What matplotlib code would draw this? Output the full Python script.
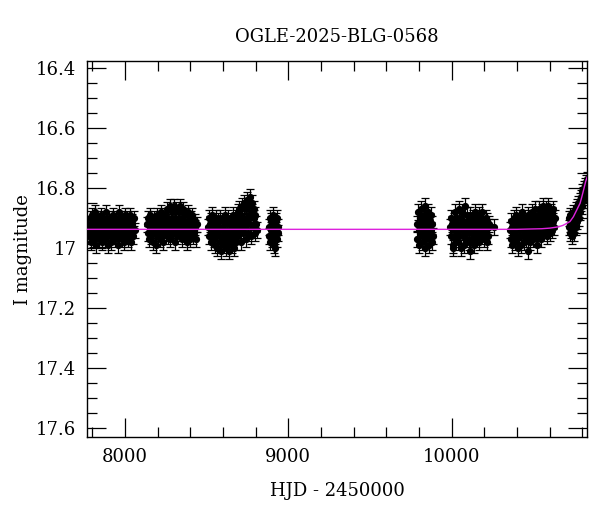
import matplotlib
matplotlib.use("Agg")
import matplotlib.pyplot as plt
from matplotlib.ticker import MultipleLocator, FuncFormatter

plt.rcParams['font.family'] = ['DejaVu Serif']

title = "OGLE-2025-BLG-0568"
xlabel = "HJD - 2450000"
ylabel = "I magnitude"

# Season 1
s1_t = [7776, 7780, 7783, 7787, 7790, 7794, 7797, 7801, 7804, 7808,
        7811, 7815, 7818, 7822, 7825, 7829, 7832, 7836, 7839, 7843,
        7847, 7850, 7854, 7857, 7861, 7864, 7868, 7871, 7875, 7878,
        7882, 7885, 7889, 7892, 7896, 7899, 7903, 7906, 7910, 7913,
        7917, 7921, 7924, 7928, 7931, 7935, 7938, 7942, 7945, 7949,
        7952, 7956, 7959, 7963, 7966, 7970, 7973, 7977, 7980, 7984,
        7988, 7991, 7995, 7998, 8002, 8005, 8009, 8012, 8016, 8019,
        8023, 8027, 8030, 8034, 8037, 8041, 8044, 8048, 8052, 8059]
s1_m = [16.93, 16.96, 16.90, 16.94, 16.98, 16.92, 16.89, 16.95, 16.97, 16.91,
        16.94, 16.88, 16.96, 16.93, 16.99, 16.90, 16.95, 16.92, 16.97, 16.94,
        16.91, 16.96, 16.89, 16.93, 16.98, 16.95, 16.90, 16.92, 16.97, 16.94,
        16.88, 16.96, 16.93, 16.91, 16.99, 16.94, 16.90, 16.96, 16.92, 16.95,
        16.98, 16.91, 16.94, 16.89, 16.96, 16.93, 16.97, 16.90, 16.95, 16.92,
        16.94, 16.99, 16.91, 16.96, 16.88, 16.93, 16.95, 16.90, 16.97, 16.93,
        16.91, 16.95, 16.98, 16.92, 16.89, 16.94, 16.96, 16.90, 16.93, 16.97,
        16.92, 16.95, 16.89, 16.94, 16.98, 16.91, 16.93, 16.96, 16.90, 16.94]
# Season 2
s2_t = [8135, 8139, 8143, 8147, 8150, 8154, 8158, 8162, 8166, 8170,
        8173, 8177, 8181, 8185, 8189, 8193, 8196, 8200, 8204, 8208,
        8212, 8216, 8219, 8223, 8227, 8231, 8235, 8239, 8242, 8246,
        8250, 8254, 8258, 8262, 8265, 8269, 8273, 8277, 8281, 8285,
        8288, 8292, 8296, 8300, 8304, 8308, 8311, 8315, 8319, 8323,
        8327, 8331, 8334, 8338, 8342, 8346, 8350, 8354, 8357, 8361,
        8365, 8369, 8373, 8377, 8380, 8384, 8388, 8392, 8396, 8400,
        8403, 8407, 8411, 8415, 8419, 8423, 8426, 8430, 8434, 8438]
s2_m = [16.92, 16.95, 16.90, 16.97, 16.93, 16.89, 16.96, 16.94, 16.91, 16.98,
        16.93, 16.90, 16.95, 16.92, 16.99, 16.94, 16.89, 16.96, 16.91, 16.93,
        16.97, 16.90, 16.94, 16.88, 16.96, 16.92, 16.98, 16.91, 16.94, 16.89,
        16.95, 16.92, 16.87, 16.96, 16.90, 16.93, 16.86, 16.97, 16.91, 16.94,
        16.88, 16.95, 16.92, 16.86, 16.98, 16.90, 16.93, 16.87, 16.96, 16.91,
        16.94, 16.88, 16.92, 16.86, 16.95, 16.90, 16.97, 16.87, 16.93, 16.91,
        16.96, 16.89, 16.94, 16.92, 16.98, 16.88, 16.95, 16.91, 16.93, 16.97,
        16.90, 16.94, 16.89, 16.96, 16.92, 16.95, 16.91, 16.93, 16.97, 16.92]
# Season 3
s3_t = [8509, 8513, 8517, 8520, 8524, 8528, 8532, 8535, 8539, 8543,
        8547, 8550, 8554, 8558, 8562, 8565, 8569, 8573, 8577, 8580,
        8584, 8588, 8592, 8595, 8599, 8603, 8607, 8610, 8614, 8618,
        8622, 8625, 8629, 8633, 8637, 8640, 8644, 8648, 8652, 8655,
        8659, 8663, 8667, 8670, 8674, 8678, 8682, 8685, 8689, 8693,
        8697, 8700, 8704, 8708, 8712, 8715, 8719, 8723, 8727, 8730,
        8734, 8738, 8742, 8745, 8749, 8753, 8757, 8760, 8764, 8768,
        8772, 8775, 8779, 8783, 8787, 8790, 8794, 8798, 8802, 8805]
s3_m = [16.93, 16.90, 16.96, 16.92, 16.98, 16.91, 16.95, 16.89, 16.94, 16.97,
        16.92, 16.99, 16.90, 16.95, 16.93, 17.00, 16.91, 16.96, 16.94, 16.98,
        16.90, 17.01, 16.93, 16.96, 16.91, 16.99, 16.94, 16.89, 16.97, 17.00,
        16.92, 16.95, 16.98, 16.90, 17.01, 16.94, 16.96, 16.91, 16.99, 16.93,
        16.89, 16.97, 16.92, 17.00, 16.95, 16.90, 16.98, 16.93, 16.88, 16.96,
        16.91, 16.87, 16.94, 16.98, 16.89, 16.92, 16.86, 16.95, 16.90, 16.85,
        16.93, 16.97, 16.87, 16.91, 16.84, 16.95, 16.89, 16.86, 16.92, 16.83,
        16.96, 16.88, 16.85, 16.93, 16.90, 16.87, 16.95, 16.89, 16.92, 16.94]
# Season 4
s4_t = [8880, 8883, 8886, 8889, 8892, 8895, 8898, 8901, 8904, 8907,
        8910, 8913, 8916, 8919, 8922, 8925, 8928, 8931, 8934, 8938]
s4_m = [16.93, 16.96, 16.90, 16.98, 16.94, 16.91, 16.97, 16.93, 16.89, 16.95,
        16.99, 16.92, 16.96, 17.00, 16.91, 16.94, 16.97, 16.90, 16.95, 16.93]
# Season 5
s5_t = [9787, 9790, 9794, 9797, 9801, 9804, 9807, 9811, 9814, 9818,
        9821, 9824, 9828, 9831, 9835, 9838, 9841, 9845, 9848, 9852,
        9855, 9858, 9862, 9865, 9869, 9872, 9875, 9879, 9882, 9886]
s5_m = [16.92, 16.97, 16.88, 16.94, 16.99, 16.90, 16.95, 16.87, 16.93, 16.98,
        16.91, 16.96, 16.89, 16.94, 17.00, 16.86, 16.92, 16.97, 16.90, 16.95,
        16.88, 16.93, 16.99, 16.91, 16.96, 16.89, 16.94, 16.98, 16.92, 16.96]
# Season 6
s6_t = [9991, 9995, 9998, 10002, 10005, 10009, 10012, 10016, 10019, 10023,
        10026, 10030, 10033, 10037, 10040, 10044, 10047, 10051, 10054, 10058,
        10061, 10065, 10068, 10072, 10075, 10079, 10082, 10086, 10089, 10093,
        10096, 10100, 10103, 10107, 10110, 10114, 10117, 10121, 10124, 10128,
        10131, 10135, 10138, 10142, 10145, 10149, 10152, 10156, 10159, 10163,
        10166, 10170, 10173, 10177, 10180, 10184, 10187, 10191, 10194, 10198,
        10201, 10205, 10208, 10212, 10215, 10219, 10222, 10226, 10230, 10256]
s6_m = [16.93, 16.90, 16.96, 16.92, 16.99, 17.00, 16.94, 16.91, 16.88, 16.97,
        16.93, 16.90, 16.95, 16.98, 16.92, 16.87, 16.96, 16.94, 16.90, 17.00,
        16.93, 16.88, 16.96, 16.91, 16.99, 16.94, 16.86, 16.92, 16.97, 16.89,
        16.95, 16.91, 16.98, 16.93, 17.01, 16.89, 16.95, 16.92, 16.97, 16.90,
        16.94, 16.99, 16.91, 16.96, 16.88, 16.93, 16.97, 16.90, 16.95, 16.92,
        16.98, 16.89, 16.94, 16.91, 16.96, 16.93, 16.88, 16.95, 16.91, 16.97,
        16.92, 16.95, 16.90, 16.94, 16.98, 16.91, 16.96, 16.93, 16.92, 16.93]
# Season 7
s7_t = [10358, 10361, 10365, 10368, 10372, 10375, 10379, 10382, 10386, 10389,
        10392, 10396, 10399, 10403, 10406, 10410, 10413, 10417, 10420, 10423,
        10427, 10430, 10434, 10437, 10441, 10444, 10448, 10451, 10454, 10458,
        10461, 10465, 10468, 10472, 10475, 10479, 10482, 10485, 10489, 10492,
        10496, 10499, 10503, 10506, 10510, 10513, 10516, 10520, 10523, 10527,
        10530, 10534, 10537, 10541, 10544, 10547, 10551, 10554, 10558, 10561,
        10565, 10568, 10572, 10575, 10578, 10582, 10585, 10589, 10592, 10596,
        10599, 10603, 10606, 10609, 10613, 10616, 10620, 10623, 10627, 10630]
s7_m = [16.94, 16.97, 16.91, 16.99, 16.93, 16.96, 16.90, 16.95, 16.92, 16.98,
        16.89, 16.94, 16.97, 16.91, 17.00, 16.93, 16.96, 16.90, 16.94, 16.99,
        16.92, 16.88, 16.96, 16.93, 16.98, 16.90, 16.95, 16.92, 16.97, 16.91,
        16.94, 16.89, 17.01, 16.93, 16.96, 16.90, 16.98, 16.92, 16.95, 16.88,
        16.93, 16.97, 16.90, 16.94, 16.87, 16.96, 16.91, 16.93, 16.99, 16.89,
        16.95, 16.92, 16.87, 16.94, 16.90, 16.97, 16.88, 16.93, 16.86, 16.95,
        16.91, 16.89, 16.94, 16.87, 16.92, 16.96, 16.88, 16.91, 16.86, 16.93,
        16.90, 16.95, 16.88, 16.92, 16.89, 16.94, 16.91, 16.87, 16.93, 16.90]
# Season 8 (rising part)
s8_t = [10716, 10719, 10722, 10725, 10727, 10730, 10733, 10736, 10739, 10741,
        10744, 10747, 10750, 10753, 10755, 10758, 10761, 10764, 10767, 10769,
        10772, 10775, 10778, 10781, 10783, 10786, 10789, 10792, 10795, 10797,
        10800, 10803, 10806, 10809, 10811, 10814, 10817, 10820, 10823, 10826]
s8_m = [16.93, 16.90, 16.95, 16.92, 16.89, 16.94, 16.91, 16.96, 16.90, 16.93,
        16.88, 16.92, 16.95, 16.89, 16.91, 16.87, 16.93, 16.89, 16.86, 16.91,
        16.88, 16.85, 16.90, 16.87, 16.84, 16.88, 16.85, 16.83, 16.86, 16.84,
        16.81, 16.84, 16.82, 16.80, 16.83, 16.79, 16.81, 16.78, 16.80, 16.77]

season_times = [s1_t, s2_t, s3_t, s4_t, s5_t, s6_t, s7_t, s8_t]
season_mags = [s1_m, s2_m, s3_m, s4_m, s5_m, s6_m, s7_m, s8_m]
season_err = [0.025, 0.025, 0.026, 0.026, 0.026, 0.026, 0.026, 0.025]

# Model curve
model_t = [7769, 10400, 10550, 10600, 10650, 10680, 10705, 10724, 10745, 10766, 10786, 10797, 10810, 10820, 10830]
model_m = [16.937, 16.937, 16.935, 16.933, 16.929, 16.924, 16.917, 16.911, 16.895, 16.872, 16.850, 16.828, 16.80, 16.778, 16.762]

fig = plt.figure(figsize=(6.0, 5.12), dpi=100)
ax = fig.add_axes([0.1455, 0.1459, 0.8333, 0.735])

for t, m, e in zip(season_times, season_mags, season_err):
    ax.errorbar(t, m, yerr=e, fmt='o', ms=4.2, color='black', ecolor='black',
                elinewidth=0.9, capsize=2.8, capthick=0.9, zorder=2)

ax.plot(model_t, model_m, color='#dd22dd', lw=1.0, zorder=3)

ax.set_xlim(7769, 10830)
ax.set_ylim(17.63, 16.376)

ax.xaxis.set_major_locator(MultipleLocator(1000))
ax.xaxis.set_minor_locator(MultipleLocator(200))
ax.yaxis.set_major_locator(MultipleLocator(0.2))
ax.yaxis.set_minor_locator(MultipleLocator(0.05))
ax.yaxis.set_major_formatter(FuncFormatter(
    lambda v, p: f"{round(v):d}" if abs(v - round(v)) < 1e-6 else f"{v:.1f}"))

ax.tick_params(which='both', direction='in', top=True, right=True, labelsize=13, color='black')
ax.tick_params(which='major', length=14, width=0.9, pad=8)
ax.tick_params(which='minor', length=7, width=0.9)
for s in ax.spines.values():
    s.set_linewidth(1.0)

ax.set_title(title, fontsize=13, pad=14)
ax.set_xlabel(xlabel, fontsize=13, labelpad=11)
ax.set_ylabel(ylabel, fontsize=13, labelpad=3)

fig.savefig("out.png", dpi=100)
